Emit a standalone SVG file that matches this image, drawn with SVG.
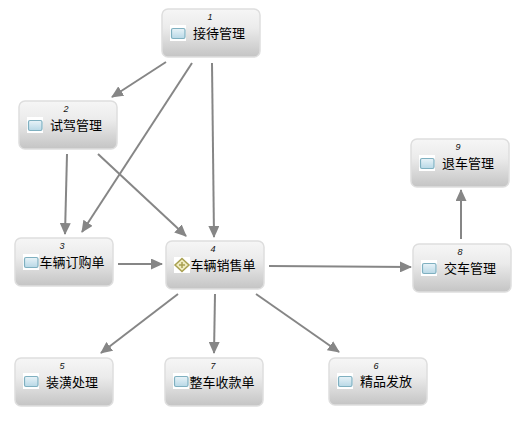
<svg xmlns="http://www.w3.org/2000/svg" width="515" height="429" viewBox="0 0 515 429">
<style>
.box{fill:url(#g);stroke:#dedede;stroke-width:1.5}
.num{font:italic 9px "Liberation Sans",sans-serif;fill:#111;text-anchor:middle}
.lbl{font:13px "Noto Sans CJK SC",sans-serif;fill:#000}
.ibg{fill:#fff}
.ico{fill:url(#ic);stroke:#7fb0c0;stroke-width:1.2}
.c{fill:none;stroke:#868686;stroke-width:2;marker-end:url(#a)}
</style>
<defs>
<linearGradient id="g" x1="0" y1="0" x2="0" y2="1"><stop offset="0" stop-color="#f6f6f6"/><stop offset=".4" stop-color="#ebebeb"/><stop offset="1" stop-color="#c4c4c4"/></linearGradient>
<linearGradient id="ic" x1="0" y1="0" x2="0" y2="1"><stop offset="0" stop-color="#e8f3f8"/><stop offset="1" stop-color="#b8d8e6"/></linearGradient>
<marker id="a" markerWidth="12" markerHeight="11" refX="11" refY="5.500" orient="auto" markerUnits="userSpaceOnUse" viewBox="0 0 12 11"><path d="M0 0L12 5.500L0 11Z" fill="#868686"/></marker>
</defs>
<g id="connectors">
<path class="c" d="M166 62L112 97"/>
<path class="c" d="M192 63L82 232"/>
<path class="c" d="M212 63L214 237"/>
<path class="c" d="M67 154L65 234"/>
<path class="c" d="M98 154L186 236"/>
<path class="c" d="M118 264L162 264"/>
<path class="c" d="M269 266L411 267"/>
<path class="c" d="M461 239L461 190"/>
<path class="c" d="M178 294L101 353"/>
<path class="c" d="M215 294L214 353"/>
<path class="c" d="M256 294L339 352"/>
</g>
<g id="n1"><rect class="box" x="162" y="9" width="98" height="48" rx="6"/><text class="num" x="210" y="20">1</text><rect class="ibg" x="170" y="25" width="16" height="16"/><rect class="ico" x="171.500" y="28.500" width="13.500" height="10" rx="1.500"/><text class="lbl" x="193" y="38">接待管理</text></g>
<g id="n2"><rect class="box" x="19" y="101" width="98" height="48" rx="6"/><text class="num" x="66" y="112">2</text><rect class="ibg" x="27" y="117" width="16" height="16"/><rect class="ico" x="28.500" y="120.500" width="13.500" height="10" rx="1.500"/><text class="lbl" x="50" y="130">试驾管理</text></g>
<g id="n3"><rect class="box" x="15" y="238" width="98" height="48" rx="6"/><text class="num" x="62" y="249">3</text><rect class="ibg" x="23" y="254" width="16" height="16"/><rect class="ico" x="24.500" y="257.500" width="13.500" height="10" rx="1.500"/><text class="lbl" x="39.500" y="267">车辆订购单</text></g>
<g id="n4"><rect class="box" x="166" y="241" width="98" height="48" rx="6"/><text class="num" x="213" y="252">4</text><rect class="ibg" x="174" y="257" width="16" height="16"/><path d="M182 258.500L189 265L182 271.500L175 265Z" fill="#f0ecc0" stroke="#a8a050" stroke-width="1.500"/><path d="M182 262V268M179 265H185" stroke="#a8a050" stroke-width="1.500"/><text class="lbl" x="190.500" y="270">车辆销售单</text></g>
<g id="n5"><rect class="box" x="15" y="358" width="98" height="48" rx="6"/><text class="num" x="62" y="369">5</text><rect class="ibg" x="23" y="373" width="16" height="16"/><rect class="ico" x="24.500" y="376.500" width="13.500" height="10" rx="1.500"/><text class="lbl" x="46" y="387">装潢处理</text></g>
<g id="n7"><rect class="box" x="165" y="358" width="98" height="48" rx="6"/><text class="num" x="213" y="369">7</text><rect class="ibg" x="173" y="373" width="16" height="16"/><rect class="ico" x="174.500" y="376.500" width="13.500" height="10" rx="1.500"/><text class="lbl" x="189.500" y="387">整车收款单</text></g>
<g id="n6"><rect class="box" x="329" y="358" width="98" height="47" rx="6"/><text class="num" x="376" y="369">6</text><rect class="ibg" x="337" y="373" width="16" height="16"/><rect class="ico" x="338.500" y="376.500" width="13.500" height="10" rx="1.500"/><text class="lbl" x="360" y="386">精品发放</text></g>
<g id="n8"><rect class="box" x="413" y="244" width="98" height="48" rx="6"/><text class="num" x="460" y="255">8</text><rect class="ibg" x="421" y="260" width="16" height="16"/><rect class="ico" x="422.500" y="263.500" width="13.500" height="10" rx="1.500"/><text class="lbl" x="444" y="273">交车管理</text></g>
<g id="n9"><rect class="box" x="411" y="139" width="98" height="48" rx="6"/><text class="num" x="458" y="150">9</text><rect class="ibg" x="419" y="155" width="16" height="16"/><rect class="ico" x="420.500" y="158.500" width="13.500" height="10" rx="1.500"/><text class="lbl" x="442" y="168">退车管理</text></g>
</svg>
